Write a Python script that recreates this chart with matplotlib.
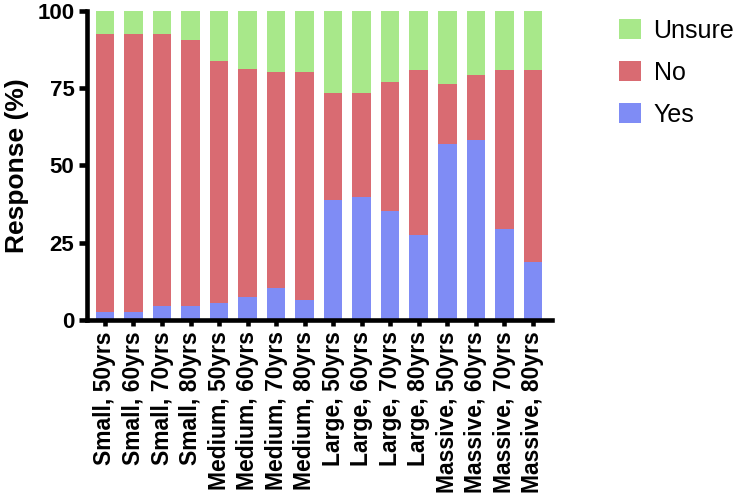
import numpy as np
from matplotlib import pyplot as plt

categories = ["Small, 50yrs", "Small, 60yrs", "Small, 70yrs", "Small, 80yrs",
              "Medium, 50yrs", "Medium, 60yrs", "Medium, 70yrs", "Medium, 80yrs",
              "Large, 50yrs", "Large, 60yrs", "Large, 70yrs", "Large, 80yrs",
              "Massive, 50yrs", "Massive, 60yrs", "Massive, 70yrs", "Massive, 80yrs"]
yes = [2.5, 2.5, 4.5, 4.5, 5.4, 7.3, 10.3, 6.5,
       38.8, 39.9, 35.1, 27.4, 57.0, 58.1, 29.4, 18.9]
no_top = [92.5, 92.5, 92.5, 90.5, 83.8, 81.0, 80.1, 80.1,
          73.3, 73.3, 77.0, 80.9, 76.2, 79.1, 80.9, 80.9]
no = [t - y for t, y in zip(no_top, yes)]
unsure = [100 - t for t in no_top]

plt.rcParams['font.family'] = ['Liberation Sans', 'DejaVu Sans']

fig = plt.figure(figsize=(7.34, 4.99), dpi=100)
ax = fig.add_axes([0.1185, 0.3587, 0.6335, 0.62])

x = np.arange(len(categories))
w = 0.65
c_yes, c_no, c_uns = "#7f8cf5", "#d96b72", "#a8e88a"
b1 = ax.bar(x, yes, w, color=c_yes, label="Yes")
b2 = ax.bar(x, no, w, bottom=yes, color=c_no, label="No")
b3 = ax.bar(x, unsure, w, bottom=no_top, color=c_uns, label="Unsure")

ax.set_xlim(-0.63, 15.67)
ax.set_ylim(0, 100)
ax.set_yticks([0, 25, 50, 75, 100])
ax.set_xticks(x)
ax.set_xticklabels(categories, rotation=90, fontsize=16.5, fontweight="bold")
for lab in ax.get_yticklabels():
    lab.set_fontsize(16)
    lab.set_fontweight("bold")
ax.set_ylabel("Response (%)", fontsize=19, fontweight="bold", labelpad=6)

for s in ["top", "right"]:
    ax.spines[s].set_visible(False)
for s in ["left", "bottom"]:
    ax.spines[s].set_linewidth(3.3)
    ax.spines[s].set_capstyle("projecting")
ax.tick_params(axis="y", width=3.3, length=6, pad=3)
ax.tick_params(axis="x", width=3.3, length=4, pad=4)

fig.legend(handles=[b3, b2, b1], labels=["Unsure", "No", "Yes"],
           loc="upper left", bbox_to_anchor=(0.812, 1.008), frameon=False,
           fontsize=18, handlelength=0.9, handleheight=0.9,
           labelspacing=0.72, handletextpad=0.5)

fig.savefig("out.png", dpi=100)
